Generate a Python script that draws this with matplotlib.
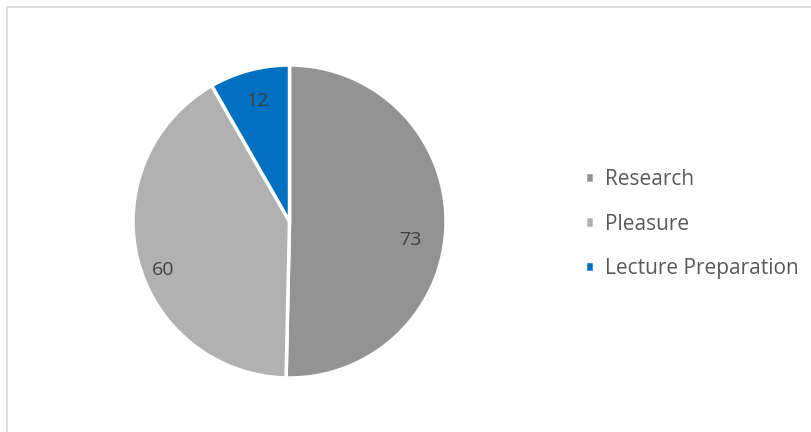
import matplotlib.pyplot as plt
from matplotlib.patches import Rectangle

categories = ["Research", "Pleasure", "Lecture Preparation"]
hours = [73, 60, 12]
colors = ["#939393", "#b1b1b1", "#0070c0"]

plt.rcParams['font.family'] = ['Open Sans', 'DejaVu Sans']

W, H = 811, 432
fig = plt.figure(figsize=(W / 100, H / 100), dpi=100)

# chart area frame (open on the right and bottom)
fig.patches.append(Rectangle((7 / W, -0.1), 1.2, 1 - 7 / H + 0.1, transform=fig.transFigure,
                             fill=False, edgecolor="#d9d9d9", linewidth=1.2))

ax = fig.add_axes([133 / W, (H - 378) / H, 313 / W, 313 / H])
wedges, texts, autotexts = ax.pie(
    hours, colors=colors, startangle=90, counterclock=False,
    wedgeprops=dict(edgecolor="white", linewidth=2.5),
    autopct=lambda p: f"{p * sum(hours) / 100:.0f}", pctdistance=0.8,
    textprops=dict(fontsize=14, color="#404040"))
ax.set_xlim(-1, 1)
ax.set_ylim(-1, 1)
ax.set_aspect("equal")

# nudge the two large labels down a little, like best-fit placement
for t in autotexts[:2]:
    x, y = t.get_position()
    t.set_position((x - 0.03, y - 0.11))

fig.legend(wedges, categories, loc="center left", bbox_to_anchor=(566 / W, 1 - 224 / H),
           frameon=False, fontsize=15, labelcolor="#595959",
           handlelength=0.45, handleheight=0.45, handletextpad=0.5, labelspacing=1.14)

fig.savefig("out.png", dpi=100, facecolor="white")
